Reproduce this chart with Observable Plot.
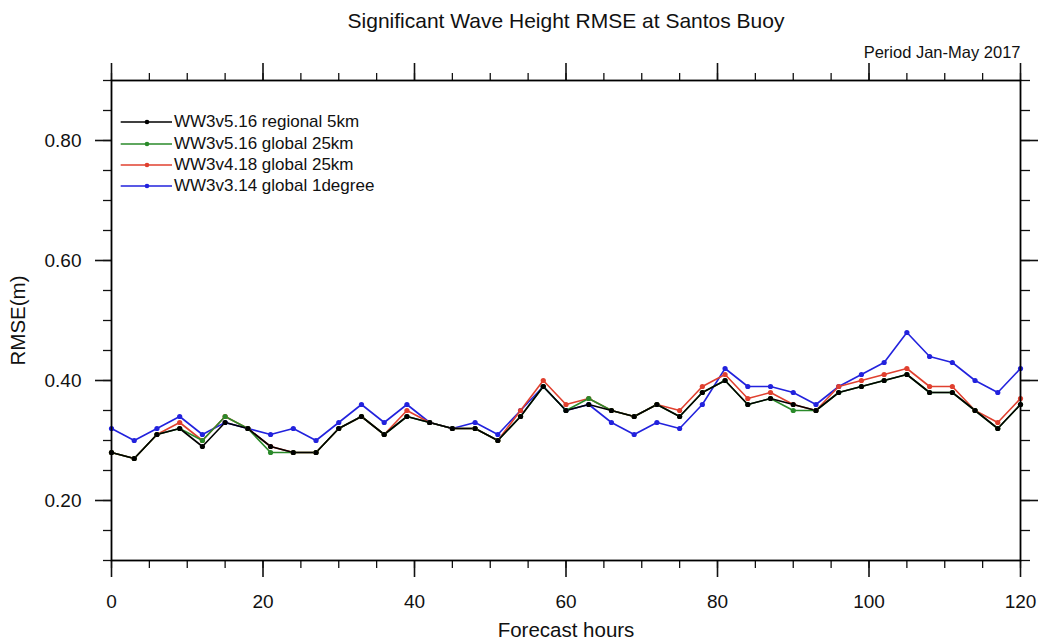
<!DOCTYPE html>
<html><head><meta charset="utf-8">
<script src="https://cdn.jsdelivr.net/npm/d3@7"></script>
<script src="https://cdn.jsdelivr.net/npm/@observablehq/plot@0.6"></script>
<style>
body{margin:0;background:#fff;}
#wrap{position:relative;width:1038px;height:639px;font-family:"Liberation Sans",Arial,Helvetica,sans-serif;}
#legend{position:absolute;left:120px;top:111.5px;font-size:17px;color:#111;}
.row{display:flex;align-items:center;height:21.4px;white-space:nowrap;}
.row svg{display:block;margin-right:1px;}
</style></head><body><div id="wrap"></div>
<script>
const title = "Significant Wave Height RMSE at Santos Buoy";
const period = "Period Jan-May 2017";
const xLabel = "Forecast hours";
const yLabel = "RMSE(m)";

const hours = [0,3,6,9,12,15,18,21,24,27,30,33,36,39,42,45,48,51,54,57,60,63,66,69,72,75,78,81,84,87,90,93,96,99,102,105,108,111,114,117,120];

const seriesNames = ["WW3v5.16 regional 5km","WW3v5.16 global 25km","WW3v4.18 global 25km","WW3v3.14 global 1degree"];
const seriesColors = ["#000000","#2a8a2a","#e0402f","#2222dd"];

const regional5km = [0.28,0.27,0.31,0.32,0.29,0.33,0.32,0.29,0.28,0.28,0.32,0.34,0.31,0.34,0.33,0.32,0.32,0.30,0.34,0.39,0.35,0.36,0.35,0.34,0.36,0.34,0.38,0.40,0.36,0.37,0.36,0.35,0.38,0.39,0.40,0.41,0.38,0.38,0.35,0.32,0.36];
const global25kmV516 = [0.28,0.27,0.31,0.32,0.30,0.34,0.32,0.28,0.28,0.28,0.32,0.34,0.31,0.34,0.33,0.32,0.32,0.30,0.34,0.39,0.35,0.37,0.35,0.34,0.36,0.34,0.38,0.40,0.36,0.37,0.35,0.35,0.38,0.39,0.40,0.41,0.38,0.38,0.35,0.32,0.36];
const global25kmV418 = [0.28,0.27,0.31,0.33,0.30,0.34,0.32,0.29,0.28,0.28,0.32,0.34,0.31,0.35,0.33,0.32,0.32,0.30,0.35,0.40,0.36,0.37,0.35,0.34,0.36,0.35,0.39,0.41,0.37,0.38,0.36,0.35,0.39,0.40,0.41,0.42,0.39,0.39,0.35,0.33,0.37];
const global1deg = [0.32,0.30,0.32,0.34,0.31,0.33,0.32,0.31,0.32,0.30,0.33,0.36,0.33,0.36,0.33,0.32,0.33,0.31,0.35,0.39,0.35,0.36,0.33,0.31,0.33,0.32,0.36,0.42,0.39,0.39,0.38,0.36,0.39,0.41,0.43,0.48,0.44,0.43,0.40,0.38,0.42];

const xMajor = [0,20,40,60,80,100,120];
const xMinor = [0,5,10,15,20,25,30,35,40,45,50,55,60,65,70,75,80,85,90,95,100,105,110,115,120];
const yMajor = [0.2,0.4,0.6,0.8];
const yMinor = [0.1,0.15,0.2,0.25,0.3,0.35,0.4,0.45,0.5,0.55,0.6,0.65,0.7,0.75,0.8,0.85,0.9];

const seriesValues = [regional5km, global25kmV516, global25kmV418, global1deg];
// draw order: blue, red, green, black (black on top)
const drawOrder = [3,2,1,0];
const rows = [];
for (const i of drawOrder) {
  hours.forEach((h, j) => rows.push({series: seriesNames[i], hour: h, value: seriesValues[i][j]}));
}

const font = "'Liberation Sans', Arial, Helvetica, sans-serif";
const blank = () => "";

const chart = Plot.plot({
  width: 1038,
  height: 639,
  marginLeft: 111,
  marginRight: 18,
  marginTop: 80,
  marginBottom: 79,
  style: {fontFamily: font, background: "white", color: "#111", overflow: "visible"},
  x: {domain: [0, 120]},
  y: {domain: [0.1, 0.9]},
  color: {domain: seriesNames, range: seriesColors},
  marks: [
    Plot.axisX({anchor: "bottom", ticks: xMinor, tickSize: 8, tickFormat: blank, label: null, strokeWidth: 1.3}),
    Plot.axisX({anchor: "bottom", ticks: xMajor, tickSize: 17, tickPadding: 17, tickFormat: d => String(d), fontSize: 19, label: null, strokeWidth: 1.6}),
    Plot.axisX({anchor: "top", ticks: xMinor, tickSize: 8, tickFormat: blank, label: null, strokeWidth: 1.3}),
    Plot.axisX({anchor: "top", ticks: xMajor, tickSize: 18, tickFormat: blank, label: null, strokeWidth: 1.6}),
    Plot.axisY({anchor: "left", ticks: yMinor, tickSize: 8, tickFormat: blank, label: null, strokeWidth: 1.3}),
    Plot.axisY({anchor: "left", ticks: yMajor, tickSize: 16, tickPadding: 14, tickFormat: d3.format(".2f"), fontSize: 19, label: null, strokeWidth: 1.6}),
    Plot.axisY({anchor: "right", ticks: yMinor, tickSize: 9, tickFormat: blank, label: null, strokeWidth: 1.3}),
    Plot.axisY({anchor: "right", ticks: yMajor, tickSize: 17, tickFormat: blank, label: null, strokeWidth: 1.6}),
    Plot.line(rows, {x: "hour", y: "value", z: "series", stroke: "series", strokeWidth: 1.6}),
    Plot.dot(rows, {x: "hour", y: "value", fill: "series", r: 2.6}),
    Plot.frame({stroke: "#000", strokeWidth: 1.8}),
    Plot.text([title], {text: d => d, frameAnchor: "top", lineAnchor: "bottom", dy: -53, fontSize: 21, fill: "#111"}),
    Plot.text([period], {text: d => d, frameAnchor: "top-right", textAnchor: "end", lineAnchor: "bottom", dy: -23, fontSize: 16.5, fill: "#111"}),
    Plot.text([xLabel], {text: d => d, frameAnchor: "bottom", lineAnchor: "bottom", dy: 76, fontSize: 20.5, fill: "#111"}),
    Plot.text([yLabel], {text: d => d, frameAnchor: "left", rotate: -90, textAnchor: "middle", lineAnchor: "middle", dx: -93, fontSize: 20.5, fill: "#111"})
  ]
});

const wrap = document.getElementById("wrap");
wrap.appendChild(chart);

const legend = document.createElement("div");
legend.id = "legend";
seriesNames.forEach((name, i) => {
  const row = document.createElement("div");
  row.className = "row";
  row.innerHTML = `<svg width="53" height="10"><line x1="0.7" y1="5" x2="52" y2="5" stroke="${seriesColors[i]}" stroke-width="1.5"/><circle cx="27" cy="5" r="2.3" fill="${seriesColors[i]}"/></svg><span>${name}</span>`;
  legend.appendChild(row);
});
wrap.appendChild(legend);
</script></body></html>
